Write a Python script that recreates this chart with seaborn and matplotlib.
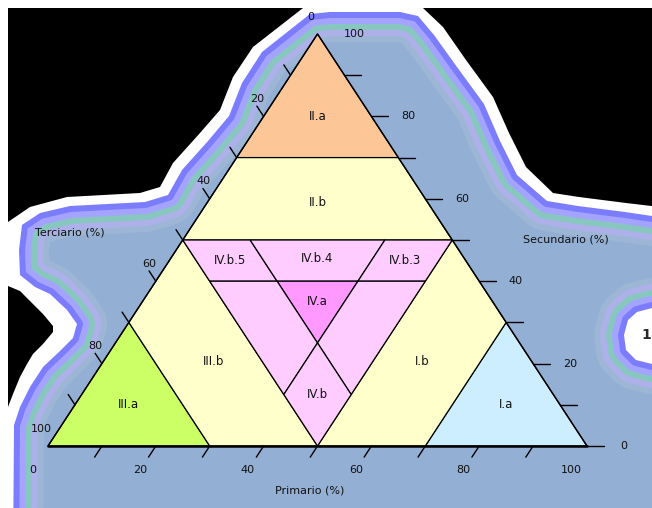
import numpy as np
import pandas as pd
import seaborn as sns
import matplotlib.pyplot as plt
from matplotlib.patches import Polygon, Rectangle

# %% Values (percent)

cut_dominant = 70    # one sector >= 70 %  -> classes I.a / II.a / III.a
cut_major = 50       # one sector >= 50 %  -> classes I.b / II.b / III.b, else IV
cut_sec_inner = 40   # Secundario line inside IV
cut_inner = 37.5     # Primario / Terciario lines inside IV

A, B, C, D = cut_dominant, cut_major, cut_sec_inner, cut_inner

# region vertices as (Primario, Secundario); Terciario = 100 - P - S
region_names = ["II.a", "II.b", "III.a", "III.b", "I.a", "I.b",
                "IV.b.5", "IV.b.4", "IV.b.3", "IV.a", "", "", "IV.b"]
region_colors = ["#FCC696", "#FFFFCC", "#CCFF66", "#FFFFCC", "#CCEEFF", "#FFFFCC",
                 "#FFCCFF", "#FFCCFF", "#FFCCFF", "#FF99FF", "#FFCCFF", "#FFCCFF",
                 "#FFCCFF"]
region_vertices = [
    [(0, 100), (0, A), (100 - A, A)],
    [(0, A), (100 - A, A), (100 - B, B), (0, B)],
    [(0, 0), (100 - A, 0), (0, 100 - A)],
    [(0, 100 - A), (100 - A, 0), (100 - B, 0), (0, 100 - B)],
    [(100, 0), (A, 100 - A), (A, 0)],
    [(A, 0), (A, 100 - A), (B, 100 - B), (B, 0)],
    [(0, B), (100 - B - D, B), (100 - C - D, C), (100 - C - B, C)],
    [(100 - B - D, B), (D, B), (D, C), (100 - C - D, C)],
    [(D, B), (100 - B, B), (B, C), (D, C)],
    [(100 - C - D, C), (D, C), (D, 100 - 2 * D)],
    [(100 - C - B, C), (100 - C - D, C), (D, 100 - 2 * D), (D, 100 - B - D)],
    [(D, C), (B, C), (B, 100 - B - D), (D, 100 - 2 * D)],
    [(D, 100 - 2 * D), (B, 100 - B - D), (B, 0), (D, 100 - B - D)],
]

ticks_minor = list(range(10, 100, 10))
primario_labels = [0, 20, 40, 60, 80, 100]
secundario_ticks = list(range(0, 100, 10))
secundario_labels = [0, 20, 40, 60, 80, 100]
terciario_labels = [0, 20, 40, 60, 80, 100]

# glow decoration around the drawing (image pixels)
outside_shape = [(-60, -60), (712, -60), (712, 216), (652, 216), (625, 212), (578, 206),
                 (547, 201), (517, 175), (500, 141), (484, 104), (457, 67), (434, 35),
                 (418, 16), (400, 12), (330, 12), (310, 14), (262, 52), (242, 83),
                 (229, 116), (208, 141), (182, 170), (168, 195), (145, 202), (70, 206),
                 (40, 213), (22, 225), (19, 250), (20, 275), (35, 287), (50, 294),
                 (67, 310), (77, 324), (73, 338), (60, 351), (43, 367), (30, 387),
                 (20, 407), (14, 425), (13, 568), (-60, 568)]
black_top_left = [(8, 8), (303, 8), (253, 47), (233, 77), (220, 110), (200, 133),
                  (173, 163), (160, 187), (140, 193), (67, 197), (30, 207), (8, 222)]
black_top_right = [(423, 8), (660, 8), (660, 207), (626, 203), (579, 197), (553, 193),
                   (526, 167), (509, 133), (493, 97), (466, 60), (443, 27)]
black_pocket = [(8, 286), (20, 291), (33, 304), (43, 314), (53, 326), (53, 332),
                (43, 344), (33, 354), (27, 364), (20, 377), (13, 394), (8, 407)]
white_blob = [(700, 306), (652, 308), (637, 312), (628, 320), (624, 335), (626, 350),
              (636, 360), (652, 364), (700, 366)]


def cart(p, s):
    return p + s / 2.0, s


def centroid(pts):
    xy = np.array([cart(p, s) for p, s in pts])
    x, y = xy[:, 0], xy[:, 1]
    x1, y1 = np.roll(x, -1), np.roll(y, -1)
    cr = x * y1 - x1 * y
    a = cr.sum() / 2.0
    return (((x + x1) * cr).sum() / (6 * a), ((y + y1) * cr).sum() / (6 * a))


# %% Figure setup

sns.set_theme(style="white")
plt.rcParams['font.family'] = ['DejaVu Sans']

fig = plt.figure(figsize=(6.52, 5.08), dpi=100)

bg = fig.add_axes([0, 0, 1, 1])
bg.set_xlim(0, 652)
bg.set_ylim(508, 0)
bg.axis('off')
bg.add_patch(Rectangle((0, 0), 652, 508, color="#94AFD4", zorder=0))

ring_cols = ["#9DB6D6", "#AEB0EA", "#88C7C0", "#A4A4FF", "#7C7CFF"]
ring_px = [30, 24, 18, 12, 6]
for shape in [outside_shape, white_blob]:
    for c, w in zip(ring_cols, ring_px):
        bg.add_patch(Polygon(shape, closed=True, fill=False, edgecolor=c,
                             lw=2 * w * 0.72, joinstyle='round', zorder=1))
bg.add_patch(Polygon(outside_shape, closed=True, color="white", lw=0, zorder=2))
bg.add_patch(Polygon(white_blob, closed=True, color="white", lw=0, zorder=2))
for shape in [black_top_left, black_top_right, black_pocket]:
    bg.add_patch(Polygon(shape, closed=True, color="black", lw=0, zorder=3))
bg.text(646, 335, "1", fontsize=10, fontweight='bold', ha='center', va='center',
        zorder=4)

# main ternary axes: x = P + S/2, y = S ; apex at pixel (318, 34)
ax = fig.add_axes([0, 0, 1, 1])
ax.patch.set_alpha(0)
ax.axis('off')
ax.set_xlim(-48 / 5.39, (652 - 48) / 5.39)
ax.set_ylim(-(508 - 446) / 4.12, 446 / 4.12)

# %% Regions

for name, col, pts in zip(region_names, region_colors, region_vertices):
    xy = [cart(p, s) for p, s in pts]
    ax.fill([q[0] for q in xy], [q[1] for q in xy], facecolor=col,
            edgecolor="black", lw=0.9, zorder=2)
    if name:
        cx, cy = centroid(pts)
        ax.text(cx, cy, name, fontsize=8.5, ha='center', va='center',
                color="#111111", zorder=5)

ax.plot([0, 50, 100], [0, 100, 0], color="black", lw=1.0, zorder=3)
ax.plot([0, 100], [0, 0], color="black", lw=1.8, zorder=3)

# %% Ticks

rows = []
k = 0
for p in ticks_minor:
    rows += [(k, p, 0), (k, p - 1.35, -2.7)]
    k += 1
for s in secundario_ticks:
    rows += [(k, 100 - s / 2, s), (k, 100 - s / 2 + 3.1, s)]
    k += 1
for t in ticks_minor:
    bx, by = (100 - t) / 2, 100 - t
    rows += [(k, bx, by), (k, bx - 1.25, by + 2.5)]
    k += 1
df_ticks = pd.DataFrame(rows, columns=["seg", "x", "y"])
sns.lineplot(data=df_ticks, x="x", y="y", units="seg", estimator=None, sort=False,
             color="black", lw=1.0, legend=False, ax=ax, zorder=3)
ax.set_xlabel("")
ax.set_ylabel("")
ax.axis('off')

lab_kw = dict(fontsize=8, ha='center', va='center', color="#111111")
for p in primario_labels:
    ax.text(p - 2.9, -5.8, str(p), **lab_kw)
for s in secundario_labels:
    ax.text(100 - s / 2 + 6.8, s, str(s), **lab_kw)
for t in terciario_labels:
    bx, by = (100 - t) / 2, 100 - t
    ax.text(bx - 1.2, by + 4.2, str(t), **lab_kw)

ax.text(25 - 20.9, 50 + 1.9, "Terciario (%)", **lab_kw)
ax.text(75 + 21.1, 50, "Secundario (%)", **lab_kw)
ax.text(50 - 1.4, -10.7, "Primario (%)", **lab_kw)

fig.savefig("out.png", dpi=100)
